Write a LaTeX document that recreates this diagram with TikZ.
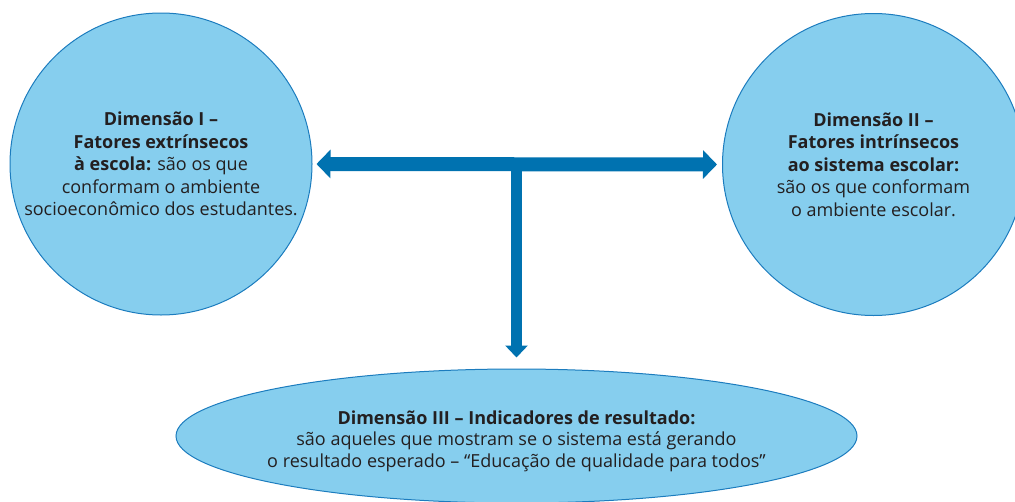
\documentclass[tikz,border=0pt]{standalone}
\usepackage{fontspec}
\setmainfont{Open Sans}
\usetikzlibrary{arrows.meta,shapes.geometric}
\definecolor{dimfill}{RGB}{134,206,238}
\definecolor{dimline}{RGB}{28,124,190}
\definecolor{arrowblue}{RGB}{0,114,176}
\definecolor{txtgray}{RGB}{35,31,32}
\tikzset{
  dimcircle/.style={circle,draw=dimline,fill=dimfill,line width=1pt,
    minimum size=302pt,inner sep=0pt,align=center,text=txtgray,
    font=\fontsize{18}{22.5}\selectfont},
  dimellipse/.style={ellipse,draw=dimline,fill=dimfill,line width=1pt,
    minimum width=681pt,minimum height=134pt,inner sep=0pt},
  dimtext/.style={align=center,text=txtgray,inner sep=0pt,
    font=\fontsize{18}{21.5}\selectfont},
  bigarrow/.style={arrowblue,line width=14pt,
    {Triangle[length=14pt,width=28pt]}-{Triangle[length=14pt,width=28pt]}},
  downarrow/.style={arrowblue,line width=11pt,-{Triangle[length=12pt,width=22pt]}}
}
\begin{document}
\begin{tikzpicture}[x=1pt,y=-1pt]
\useasboundingbox (0,0) rectangle (1015,501);
\node[dimcircle] (dim1) at (161,164) {\textbf{Dimensão I –}\\\textbf{Fatores extrínsecos}\\\textbf{à escola:} são os que\\conformam o ambiente\\socioeconômico dos estudantes.};
\node[dimcircle] (dim2) at (873.5,164.5) {\textbf{Dimensão II –}\\\textbf{Fatores intrínsecos}\\\textbf{ao sistema escolar:}\\são os que conformam\\o ambiente escolar.};
\node[dimellipse] (dim3) at (516.5,436) {};
\node[dimtext] (dim3text) at (516.5,441) {\textbf{Dimensão III – Indicadores de resultado:}\\são aqueles que mostram se o sistema está gerando\\o resultado esperado – “Educação de qualidade para todos”};
% the T of arrows
\coordinate (tee) at (516.5,165);
\draw[downarrow] (tee) -- (dim3.north) [shorten >=11pt];
\draw[bigarrow,shorten <=4pt,shorten >=5pt] (dim1.east) -- (dim2.west);
\end{tikzpicture}
\end{document}
